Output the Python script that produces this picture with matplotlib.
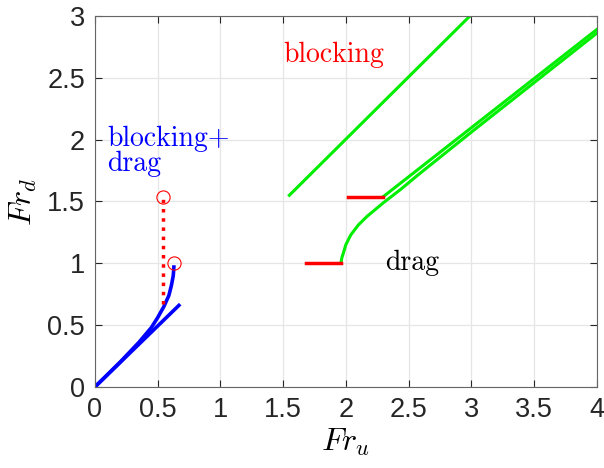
import numpy as np
import matplotlib.pyplot as plt

plt.rcParams['mathtext.fontset'] = 'cm'
plt.rcParams['font.family'] = ['Liberation Sans', 'DejaVu Sans']
plt.rcParams['axes.formatter.use_mathtext'] = False

# blocking+drag branch (blue)
blue_line_x = [0.0, 0.67]
blue_line_y = [0.0, 0.66]
blue_curve_x = [0.0, 0.2, 0.35, 0.45, 0.5, 0.55, 0.59, 0.61, 0.625, 0.63]
blue_curve_y = [0.0, 0.2, 0.36, 0.48, 0.56, 0.65, 0.74, 0.82, 0.90, 0.97]

# jump (red dotted) and critical points
jump_x = [0.545, 0.545]
jump_y = [0.67, 1.54]
crit_x = [0.545, 0.63]
crit_y = [1.54, 1.0]

# blocking branch (green)
green1_x = [1.55, 2.99]
green1_y = [1.55, 3.0]
green2_x = [2.30, 4.0]
green2_y = [1.54, 2.89]
green3_x = [1.96, 1.97, 1.98, 2.0, 2.04, 2.1, 2.17, 2.30, 2.44, 2.57, 3.0, 3.5, 4.0]
green3_y = [1.0, 1.05, 1.08, 1.15, 1.23, 1.31, 1.38, 1.49, 1.60, 1.71, 2.06, 2.46, 2.86]

# red horizontal segments
red1_x = [1.68, 1.96]
red1_y = [1.0, 1.0]
red2_x = [2.02, 2.30]
red2_y = [1.54, 1.54]

fig = plt.figure(figsize=(6.04, 4.68), dpi=100)
ax = fig.add_axes([0.157, 0.173, 0.831, 0.793])

ax.plot(blue_line_x, blue_line_y, color='b', lw=2.6)
ax.plot(blue_curve_x, blue_curve_y, color='b', lw=2.6)
ax.plot(jump_x, jump_y, ':', color='r', lw=2.5)
ax.plot(crit_x, crit_y, 'o', mfc='none', mec='r', ms=9.5, mew=0.8)

ax.plot(green1_x, green1_y, color='#00ee00', lw=2.2)
ax.plot(green2_x, green2_y, color='#00ee00', lw=2.2)
ax.plot(green3_x, green3_y, color='#00ee00', lw=2.2)
ax.plot(red1_x, red1_y, color='r', lw=2.5)
ax.plot(red2_x, red2_y, color='r', lw=2.5)

ax.text(1.50, 2.63, 'blocking', color='r', fontsize=20, family='cmr10')
ax.text(0.10, 1.95, 'blocking+', color='b', fontsize=20, family='cmr10')
ax.text(0.10, 1.75, 'drag', color='b', fontsize=20, family='cmr10')
ax.text(2.31, 0.95, 'drag', color='k', fontsize=20, family='cmr10')

ax.set_xlim(0, 4)
ax.set_ylim(0, 3)
ax.set_xticks(np.arange(0, 4.01, 0.5))
ax.set_yticks(np.arange(0, 3.01, 0.5))
ax.set_xticklabels(['0', '0.5', '1', '1.5', '2', '2.5', '3', '3.5', '4'])
ax.set_yticklabels(['0', '0.5', '1', '1.5', '2', '2.5', '3'])
ax.grid(True, color='0.9', lw=0.9)
ax.set_axisbelow(True)
ax.tick_params(direction='in', top=True, right=True, length=5, labelsize=19.5,
               colors='0.15', width=0.8, pad=7)
for s in ax.spines.values():
    s.set_color('0.4')
    s.set_linewidth(0.8)
ax.set_xlabel(r'$Fr_u$', fontsize=23, labelpad=3)
ax.set_ylabel(r'$Fr_d$', fontsize=23, labelpad=6)

fig.savefig('out.png', dpi=100)
